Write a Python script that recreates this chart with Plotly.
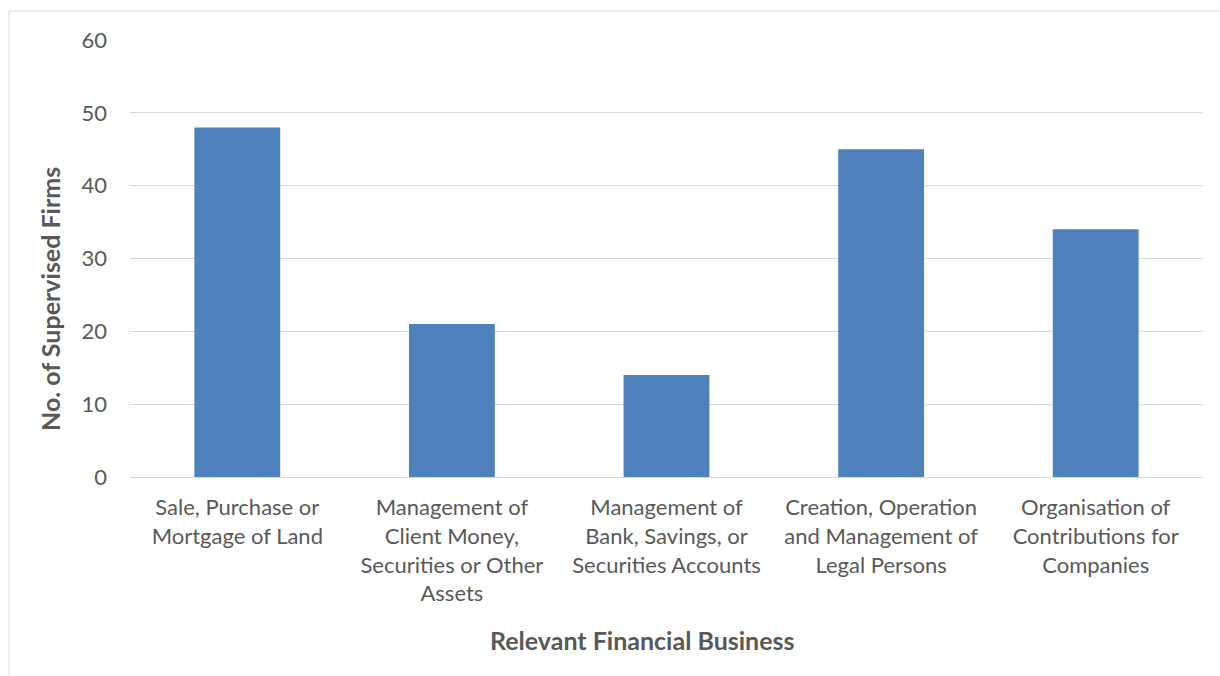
import plotly.graph_objects as go

categories = [
    "Sale, Purchase or<br>Mortgage of Land",
    "Management of<br>Client Money,<br>Securities or Other<br>Assets",
    "Management of<br>Bank, Savings, or<br>Securities Accounts",
    "Creation, Operation<br>and Management of<br>Legal Persons",
    "Organisation of<br>Contributions for<br>Companies",
]
values = [48, 21, 14, 45, 34]
y_ticks = [0, 10, 20, 30, 40, 50, 60]
x_title = "Relevant Financial Business"
y_title = "No. of Supervised Firms"

W, H = 1220, 676
L, R, T, B = 130, 17, 40, 199
pw, ph = W - L - R, H - T - B

font_family = "Lato, 'Noto Sans', sans-serif"
text_color = "#595959"

fig = go.Figure(go.Bar(x=categories, y=values, marker=dict(color="#4F81BD", line=dict(width=0))))

fig.update_layout(
    width=W, height=H,
    margin=dict(l=L, r=R, t=T, b=B),
    paper_bgcolor="white", plot_bgcolor="white",
    bargap=0.6,
    showlegend=False,
    font=dict(family=font_family, color=text_color, size=22),
    xaxis=dict(
        showgrid=False, showline=True, linecolor="#D9D9D9", linewidth=1,
        ticks="", tickfont=dict(size=22, color=text_color),
        ticklabelstandoff=11,
    ),
    yaxis=dict(
        range=[0, 60], tickvals=y_ticks, showgrid=True, gridcolor="#D9D9D9", gridwidth=1,
        zeroline=True, zerolinecolor="#D9D9D9", zerolinewidth=1,
        showline=False, ticks="", tickfont=dict(size=22, color=text_color),
        ticklabelstandoff=22,
    ),
    annotations=[
        dict(text="<b>" + x_title + "</b>", xref="paper", yref="paper",
             x=(642 - L) / pw, y=-(640 - (T + ph)) / ph, xanchor="center", yanchor="middle",
             showarrow=False, font=dict(size=25, color=text_color)),
        dict(text="<b>" + y_title + "</b>", xref="paper", yref="paper",
             x=(50 - L) / pw, y=((T + ph) - 299) / ph, xanchor="center", yanchor="middle",
             textangle=-90, showarrow=False, font=dict(size=25, color=text_color)),
    ],
    shapes=[dict(
        type="rect", xref="paper", yref="paper",
        x0=(9 - L) / pw, x1=(1240 - L) / pw,
        y0=-(B + 20) / ph,
        y1=(T + ph - 11) / ph,
        line=dict(color="#D9D9D9", width=1), fillcolor="rgba(0,0,0,0)", layer="below",
    )],
)

fig.write_html("out.html")
